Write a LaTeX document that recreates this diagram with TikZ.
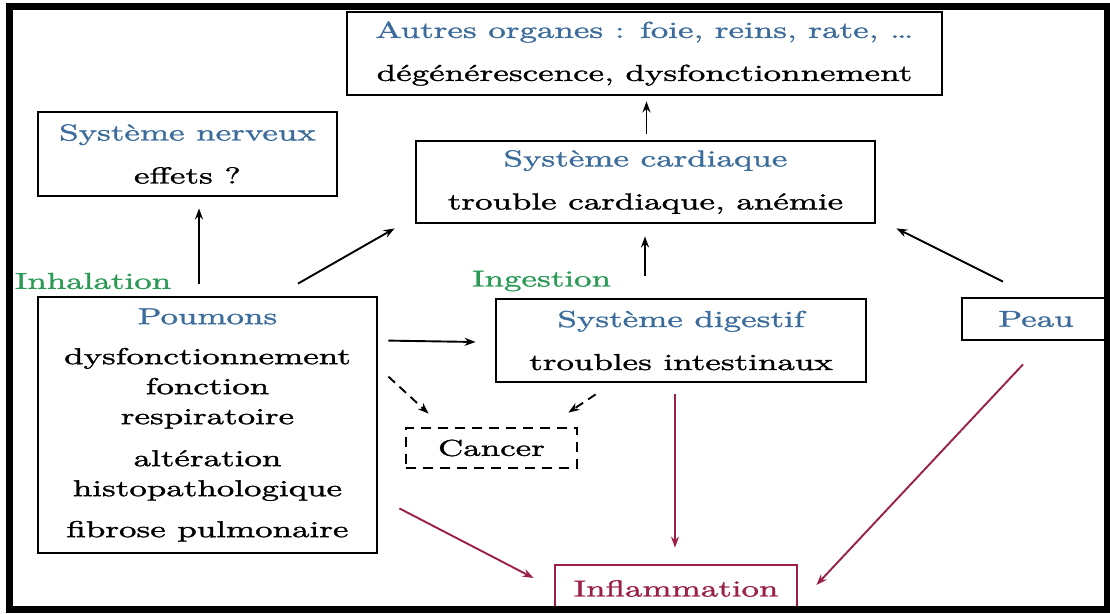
\documentclass[tikz,border=0pt]{standalone}
\usepackage{fontspec}
\setmainfont{lmroman10-regular.otf}[FakeStretch=1.52, FakeBold=1.4]
\usetikzlibrary{arrows.meta}
\definecolor{headblue}{HTML}{3B6C9C}
\definecolor{routegreen}{HTML}{2B9A55}
\definecolor{inflred}{HTML}{9B2049}
\tikzset{
  organ/.style={draw, line width=2.8pt, align=center, inner sep=0pt,
                font=\fontsize{23}{30}\selectfont},
  dashorgan/.style={organ, dash pattern=on 10pt off 7pt},
  inflbox/.style={organ, draw=inflred, text=inflred},
  route/.style={text=routegreen, font=\fontsize{23}{30}\selectfont},
  arr/.style={-{Stealth[length=11pt,width=8pt]}, line width=1.9pt},
  dasharr/.style={arr, dash pattern=on 9pt off 6pt},
  redarr/.style={arr, draw=inflred},
}

\begin{document}
\begin{tikzpicture}[x=1pt,y=-1pt]
    \useasboundingbox (0,0) rectangle (1110,613);
    % organes
    \node[organ, minimum width=595pt, minimum height=83pt] (autres) at (644.5,53.5)
      {\textcolor{headblue}{Autres organes : foie, reins, rate, \dots}\\[13pt] dégénérescence, dysfonctionnement};
    \node[organ, minimum width=299pt, minimum height=84pt] (nerveux) at (187.5,154)
      {\textcolor{headblue}{Système nerveux}\\[13pt] effets ?};
    \node[organ, minimum width=459pt, minimum height=82pt] (cardiaque) at (645.5,182)
      {\textcolor{headblue}{Système cardiaque}\\[13pt] trouble cardiaque, anémie};
    \node[organ, minimum width=339pt, minimum height=256pt] (poumons) at (207.5,425)
      {\textcolor{headblue}{Poumons}\\[10pt] dysfonctionnement\\ fonction\\ respiratoire\\[12pt]
       altération\\ histopathologique\\[11pt] fibrose pulmonaire};
    \node[organ, minimum width=370pt, minimum height=83pt] (digestif) at (681,340.5)
      {\textcolor{headblue}{Système digestif}\\[13pt] troubles intestinaux};
    \node[organ, minimum width=148pt, minimum height=42pt] (peau) at (1036,319)
      {\textcolor{headblue}{Peau}};
    \node[dashorgan, minimum width=171pt, minimum height=40pt] (cancer) at (491.5,448) {Cancer};
    \node[inflbox, minimum width=242pt, minimum height=47pt] (inflam) at (676,588.5) {Inflammation};
    % voies
    \node[route] (inhal) at (93,281) {Inhalation};
    \node[route] (inges) at (541.5,281) {Ingestion};
    % fleches
    \draw[arr] ([xshift=-8.5pt,yshift=12pt]poumons.north) -- ([xshift=11.5pt,yshift=-11pt]nerveux.south);
    \draw[arr] ([xshift=90.5pt,yshift=12pt]poumons.north) -- ([xshift=-20pt,yshift=-4pt]cardiaque.south west);
    \draw[arr] ([xshift=-36pt,yshift=22pt]digestif.north) -- ([xshift=-0.5pt,yshift=-12pt]cardiaque.south);
    \draw[arr] ([xshift=1pt,yshift=6pt]cardiaque.north) -- ([xshift=2pt,yshift=-5pt]autres.south);
    \draw[arr] ([xshift=-33pt,yshift=15pt]peau.north) -- ([xshift=20pt,yshift=-4pt]cardiaque.south east);
    \draw[arr] ([xshift=10pt,yshift=-45pt]poumons.north east) -- ([xshift=-19pt,yshift=-1.5pt]digestif.west);
    \draw[dasharr] ([xshift=10pt,yshift=-81pt]poumons.north east) -- ([xshift=24pt,yshift=13pt]cancer.north west);
    \draw[dasharr] ([xshift=101pt,yshift=-11pt]digestif.south west) -- ([xshift=-10pt,yshift=14pt]cancer.north east);
    \draw[redarr] ([xshift=21pt,yshift=46pt]poumons.south east) -- ([xshift=-20pt,yshift=10.5pt]inflam.west);
    \draw[redarr] ([xshift=-6pt,yshift=-11pt]digestif.south) -- ([xshift=-1pt,yshift=16pt]inflam.north);
    \draw[redarr] ([xshift=-13pt,yshift=-23pt]peau.south) -- ([xshift=18pt,yshift=3.5pt]inflam.east);
    % cadre
    \draw[line width=7pt] (9,6.5) rectangle (1107,609.5);
  \end{tikzpicture}
\end{document}
